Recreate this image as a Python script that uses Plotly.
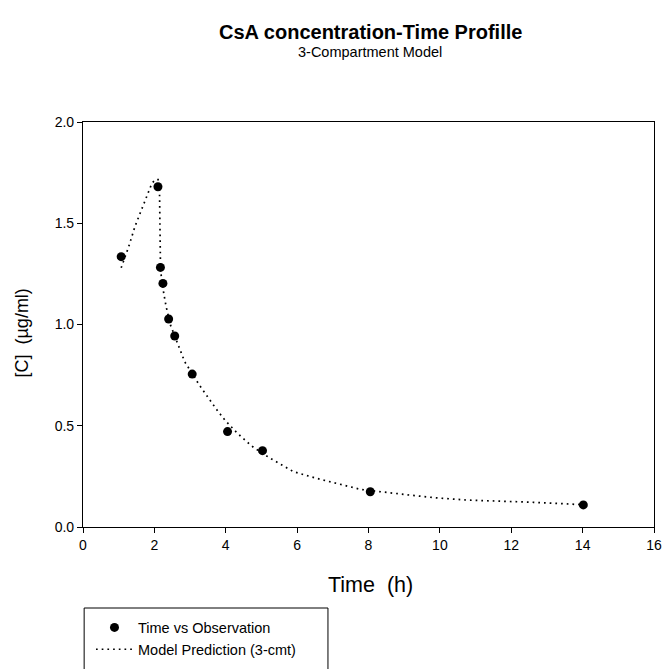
import plotly.graph_objects as go

# Observed data
obs_time = [1.07, 2.10, 2.17, 2.24, 2.40, 2.57, 3.06, 4.05, 5.03, 8.05, 14.02]
obs_conc = [1.335, 1.68, 1.282, 1.203, 1.027, 0.943, 0.755, 0.471, 0.377, 0.174, 0.109]

# Model prediction (3-compartment)
model_time = [1.07, 1.28, 1.46, 1.70, 1.93, 2.03, 2.14, 2.17, 2.20, 2.28, 2.33, 2.45, 2.71,
              2.85, 3.26, 3.50, 3.74, 3.99, 4.31, 4.59, 4.78, 5.25, 5.90, 6.55, 7.21, 7.77,
              8.89, 9.82, 10.76, 11.69, 12.62, 13.56, 14.02]
model_conc = [1.28, 1.384, 1.486, 1.599, 1.697, 1.716, 1.715, 1.30, 1.22, 1.137, 1.088, 0.998,
              0.874, 0.816, 0.701, 0.639, 0.581, 0.525, 0.466, 0.421, 0.393, 0.339, 0.273,
              0.240, 0.210, 0.186, 0.163, 0.145, 0.133, 0.128, 0.122, 0.114, 0.110]

x_ticks = [0, 2, 4, 6, 8, 10, 12, 14, 16]
y_ticks = [0.0, 0.5, 1.0, 1.5, 2.0]

FONT = "Liberation Sans, Arial, sans-serif"

fig = go.Figure()
fig.add_trace(go.Scatter(
    x=obs_time, y=obs_conc, mode="markers", name="Time vs Observation",
    marker=dict(color="black", size=9, symbol="circle"),
))
fig.add_trace(go.Scatter(
    x=model_time, y=model_conc, mode="lines", name="Model Prediction (3-cmt)",
    line=dict(color="black", width=1.7, dash="1.7px,4.0px"),
))

axis_common = dict(
    showline=True, linecolor="black", linewidth=1.2, mirror=True,
    ticks="outside", ticklen=5, tickcolor="black", tickwidth=1,
    showgrid=False, zeroline=False,
    tickfont=dict(family=FONT, size=14, color="black"),
)

fig.update_layout(
    width=662, height=669,
    margin=dict(l=83, r=8, t=122, b=142, autoexpand=False),
    paper_bgcolor="white", plot_bgcolor="white",
    font=dict(family=FONT, color="black"),
    xaxis=dict(range=[0, 16], tickvals=x_ticks, ticktext=[str(v) for v in x_ticks], **axis_common),
    yaxis=dict(range=[0, 2.0], tickvals=y_ticks, ticktext=[f"{v:.1f}" for v in y_ticks], **axis_common),
    showlegend=True,
    legend=dict(
        x=0.014, y=-0.2086, xanchor="left", yanchor="top",
        bgcolor="rgba(0,0,0,0)", borderwidth=0,
        font=dict(family=FONT, size=14.5, color="black"),
        itemwidth=37,
    ),
    shapes=[dict(
        type="rect", xref="paper", yref="paper",
        x0=0.002, x1=0.429, y0=-0.2, y1=-0.45,
        line=dict(color="black", width=1), fillcolor="rgba(0,0,0,0)",
    )],
    annotations=[
        dict(text="<b>CsA concentration-Time Profille</b>", xref="paper", yref="paper",
             x=0.503, y=1.222, showarrow=False, font=dict(family=FONT, size=20, color="black"),
             xanchor="center", yanchor="middle"),
        dict(text="3-Compartment Model", xref="paper", yref="paper",
             x=0.503, y=1.173, showarrow=False, font=dict(family=FONT, size=14.5, color="black"),
             xanchor="center", yanchor="middle"),
        dict(text="Time  (h)", xref="paper", yref="paper",
             x=0.503, y=-0.143, showarrow=False, font=dict(family=FONT, size=21.5, color="black"),
             xanchor="center", yanchor="middle"),
        dict(text="[C]  (µg/ml)", xref="paper", yref="paper",
             x=-0.107, y=0.48, showarrow=False, textangle=-90,
             font=dict(family=FONT, size=18, color="black"),
             xanchor="center", yanchor="middle"),
    ],
)

fig.write_html("out.html")
